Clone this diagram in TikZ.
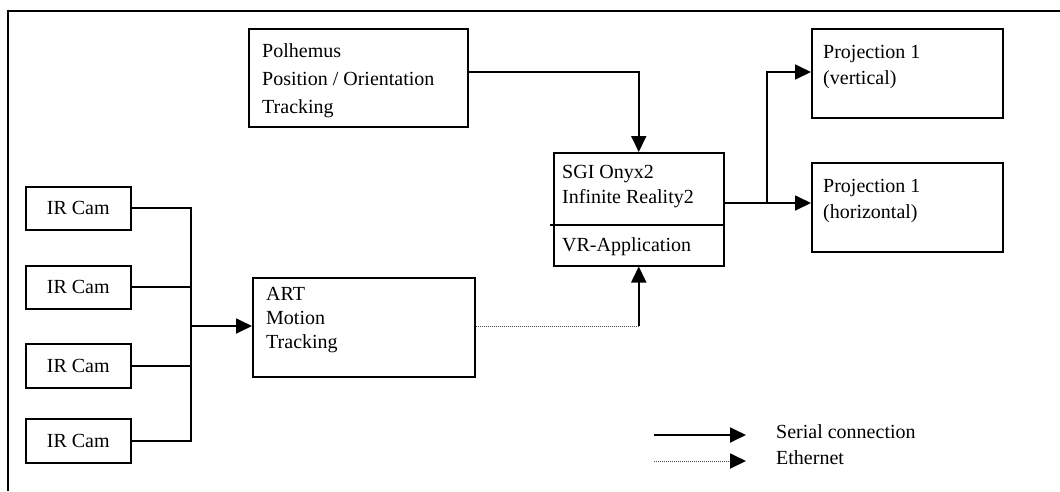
\documentclass[tikz,border=0pt]{standalone}
\usepackage{fontspec}
\setmainfont{Liberation Serif}
\usetikzlibrary{arrows.meta,calc}
\begin{document}
\begin{tikzpicture}[x=1pt,y=-1pt,
  box/.style={draw,line width=1.5pt,inner sep=0pt,anchor=north west},
  txt/.style={anchor=base west,inner sep=0pt,font=\fontsize{20}{24}\selectfont},
  ctxt/.style={inner sep=0pt,font=\fontsize{20}{24}\selectfont},
  conn/.style={line width=1.8pt},
  tip/.style={-{Triangle[length=16pt,width=15pt]}},
  eth/.style={line width=1pt,black!70,dash pattern=on 1pt off 1pt}]
\useasboundingbox (0,0) rectangle (1060,491);
% frame
\draw[line width=1.5pt] (8,491) -- (8,11) -- (1060,11);
% boxes
\node[box,minimum width=219pt,minimum height=98pt] (pol) at (248,28) {};
\node[box,minimum width=191pt,minimum height=89pt] (pr1) at (811,28) {};
\node[box,minimum width=191pt,minimum height=89pt] (pr2) at (811,162) {};
\node[box,minimum width=170pt,minimum height=113pt] (sgi) at (553,152) {};
\node[box,minimum width=222pt,minimum height=99pt] (art) at (252,277) {};
\node[box,minimum width=105pt,minimum height=43pt] (c1) at (25,186) {};
\node[box,minimum width=105pt,minimum height=43pt] (c2) at (25,265) {};
\node[box,minimum width=105pt,minimum height=44pt] (c3) at (25,343) {};
\node[box,minimum width=105pt,minimum height=44pt] (c4) at (25,418) {};
\coordinate (dv) at (550,225);
\draw[line width=1.5pt] (dv) -- (dv -| sgi.east);
% texts
\node[txt] (t1) at (262,57) {Polhemus};
\node[txt] (t2) at (262,85) {Position / Orientation};
\node[txt] (t3) at (262,113) {Tracking};
\node[txt] (t4) at (823,58) {Projection 1};
\node[txt] (t5) at (823,84) {(vertical)};
\node[txt] (t6) at (823,192) {Projection 1};
\node[txt] (t7) at (823,218) {(horizontal)};
\node[txt] (t8) at (562,178) {SGI Onyx2};
\node[txt] (t9) at (562,203) {Infinite Reality2};
\node[txt] (t10) at (562,251) {VR-Application};
\node[txt] (t11) at (266,300) {ART};
\node[txt] (t12) at (266,324) {Motion};
\node[txt] (t13) at (266,348) {Tracking};
\node[ctxt] at (c1) {IR Cam};
\node[ctxt] at (c2) {IR Cam};
\node[ctxt] at (c3) {IR Cam};
\node[ctxt] at (c4) {IR Cam};
% connections
\coordinate (bus) at (191,326);
\draw[conn] (c1.east) -- (c1.east -| bus) -- (c4.east -| bus) -- (c4.east);
\draw[conn] (c2.east) -- (c2.east -| bus);
\draw[conn] (c3.east) -- (c3.east -| bus);
\draw[conn,tip] (bus) -- (bus -| art.west);
\draw[eth] (art.east |- bus) -- (bus -| sgi.south);
\draw[conn,tip] ([yshift=0.1pt]bus -| sgi.south) -- (sgi.south);
\draw[conn,tip] ([yshift=6pt]pol.east) -- ([yshift=6pt]pol.east -| sgi.north) -- (sgi.north);
\coordinate (sp) at (767,203);
\draw[conn] (sp -| sgi.east) -- (sp);
\draw[conn,tip] (sp) -- (sp -| pr2.west);
\draw[conn,tip] (sp) -- (767,72) -- (pr1.west |- 0,72);
% legend
\coordinate (l1) at (654,435);
\coordinate (l2) at (746,435);
\coordinate (l3) at (654,461);
\coordinate (l4) at (746,461);
\coordinate (l5) at (731,461);
\draw[conn,tip] (l1) -- (l2);
\draw[eth] (l3) -- (l5);
\draw[conn,tip] (l5) -- (l4);
\node[txt] (s1) at (776,438) {Serial connection};
\node[txt] (s2) at (776,464) {Ethernet};
\end{tikzpicture}
\end{document}
